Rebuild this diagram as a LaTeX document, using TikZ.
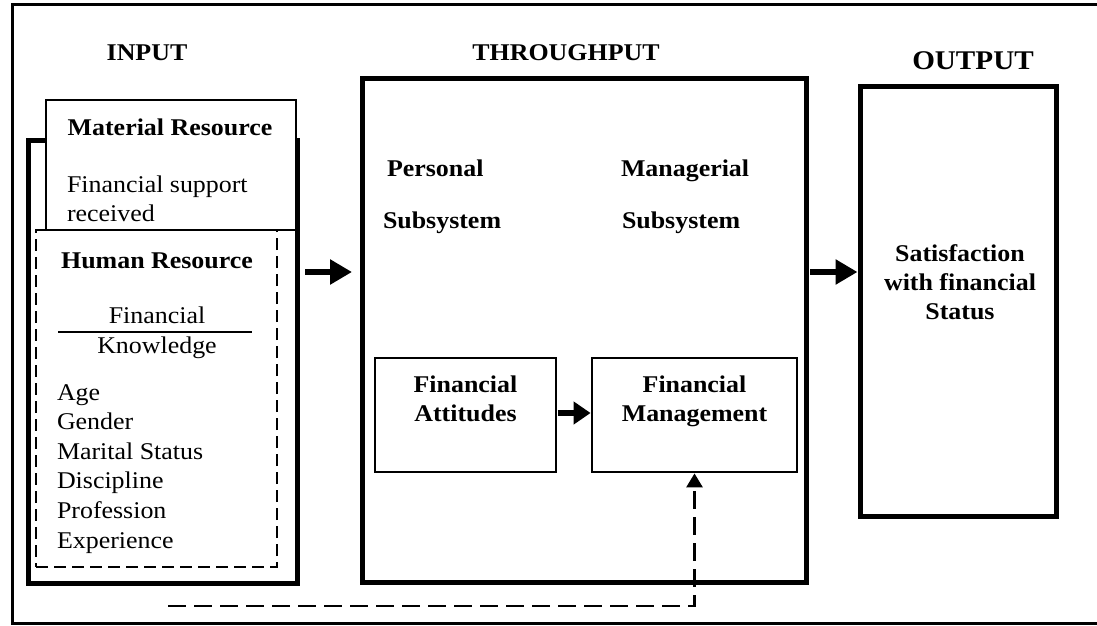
\documentclass[tikz,border=0pt]{standalone}
\usepackage{fontspec}
\setmainfont{Liberation Serif}[FakeStretch=1.08]
\usetikzlibrary{arrows.meta}
\begin{document}
\begin{tikzpicture}[x=1pt,y=-1pt,
  every node/.style={inner sep=0pt, outer sep=0pt},
  box/.style={draw, rectangle, inner sep=0pt, outer sep=0pt},
  thickbox/.style={box, line width=5pt},
  thinbox/.style={box, line width=2.8pt},
  dashbox/.style={box, line width=2.6pt, dash pattern=on 12pt off 6pt},
  lbl/.style={font=\fontsize{24}{29}\selectfont\bfseries, anchor=base},
  lblw/.style={font=\fontsize{24}{29}\selectfont\bfseries, anchor=base west},
  txt/.style={font=\fontsize{24}{29}\selectfont, anchor=base west},
  txtc/.style={font=\fontsize{24}{29}\selectfont, anchor=base},
  bigarrow/.style={line width=6pt, -{Triangle[length=22pt,width=24pt]}},
  midarrow/.style={line width=6pt, -{Triangle[length=17pt,width=22pt]}},
  fbarrow/.style={line width=2.8pt, dash pattern=on 18pt off 8pt, -{Triangle[length=14pt,width=16pt]}},
]
\useasboundingbox (0,0) rectangle (1097,626);
% outer frame
\coordinate (ftr) at (1097,5);
\coordinate (ftl) at (12,5);
\coordinate (fbl) at (12,623);
\coordinate (fbr) at (1097,623);
\draw[line width=3pt] (ftr) -- (ftl) -- (fbl) -- (fbr);

% titles
\node[lbl] (tin) at (147,60) {INPUT};
\node[lbl] (tthr) at (566,60) {THROUGHPUT};
\node[lbl, font=\fontsize{27}{32}\selectfont\bfseries] (tout) at (973,70) {OUTPUT};

% input group
\node[thickbox, minimum width=269pt, minimum height=443pt] (inbox) at (162.5,361.5) {};
\node[dashbox, minimum width=241pt, minimum height=337pt] (hrbox) at (156.5,398.5) {};
\node[thinbox, fill=white, minimum width=250pt, minimum height=130pt] (matbox) at (171,165) {};

\node[lbl] (tmat) at (170,135) {Material Resource};
\node[txt] (tfs1) at (67,192) {Financial support};
\node[txt] (tfs2) at (67,221) {received};
\node[lbl] (thr) at (157,268) {Human Resource};
\node[txtc] (tfk1) at (157,323) {Financial};
\node[txtc] (tfk2) at (157,353) {Knowledge};
\coordinate (rulel) at (58,332);
\coordinate (ruler) at (252,332);
\draw[line width=1.4pt] (rulel) -- (ruler);
\foreach \t [count=\i from 0] in {Age,Gender,Marital Status,Discipline,Profession,Experience}
  \node[txt] (li\i) at (57,400+29.6*\i) {\t};

% throughput group
\node[thickbox, minimum width=444pt, minimum height=504pt] (tpbox) at (584,330) {};
\node[lblw] (tpers) at (387,176) {Personal};
\node[lblw] (tsub1) at (383,228) {Subsystem};
\node[lblw] (tman) at (621,176) {Managerial};
\node[lblw] (tsub2) at (622,228) {Subsystem};

\node[thinbox, minimum width=181pt, minimum height=114pt] (fabox) at (465.5,415) {};
\node[thinbox, minimum width=205pt, minimum height=114pt] (fmbox) at (694.5,415) {};
\node[lbl] (tfa1) at (465.5,392) {Financial};
\node[lbl] (tfa2) at (465.5,421) {Attitudes};
\node[lbl] (tfm1) at (694.5,392) {Financial};
\node[lbl] (tfm2) at (694.5,421) {Management};

% output group
\node[thickbox, minimum width=196pt, minimum height=430pt] (outbox) at (958,301) {};
\node[lbl] (ts1) at (960,261) {Satisfaction};
\node[lbl] (ts2) at (960,290) {with financial};
\node[lbl] (ts3) at (960,319) {Status};

% arrows
\coordinate (ay) at (0,272);
\coordinate (by) at (0,413);
\draw[bigarrow] ([xshift=8pt]inbox.east |- ay) -- ([xshift=-10pt]tpbox.west |- ay);
\draw[bigarrow] ([xshift=4pt]tpbox.east |- ay) -- ([xshift=-2.5pt]outbox.west |- ay);
\draw[midarrow] ([xshift=1.5pt]fabox.east |- by) -- ([xshift=-1.4pt]fmbox.west |- by);

% feedback
\coordinate (fbs) at (168,606);
\draw[fbarrow] (fbs) -- (fbs -| fmbox.south) -- ([yshift=-1.4pt]fmbox.south);
\end{tikzpicture}
\end{document}
